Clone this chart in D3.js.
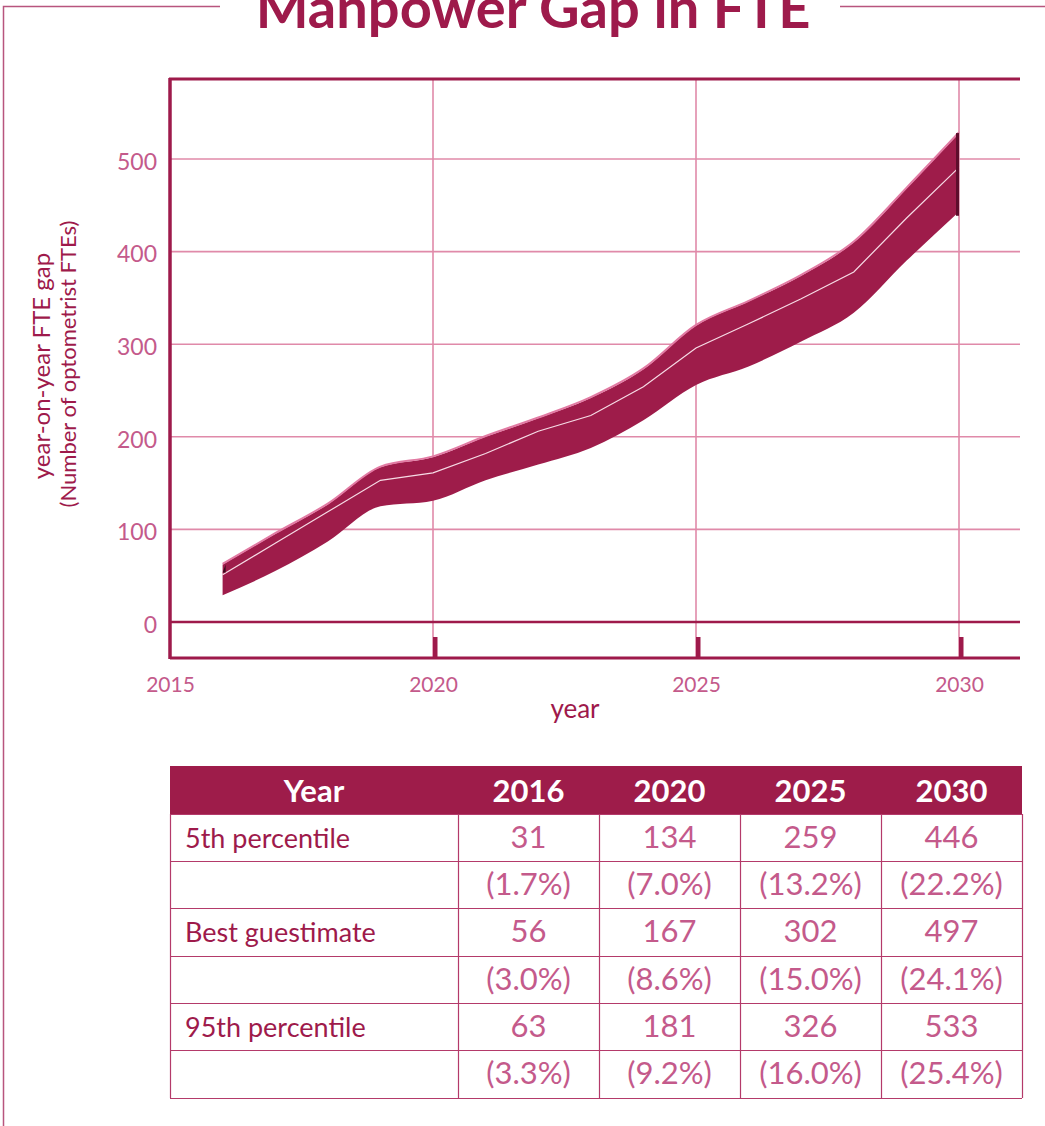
<!DOCTYPE html>
<html><head><meta charset="utf-8">
<script src="https://cdn.jsdelivr.net/npm/d3@7"></script>
<style>
html,body{margin:0;padding:0;background:#fff;}
svg{display:block;}
text{font-family:Lato,"Open Sans",sans-serif;}
</style></head>
<body>
<svg id="c" width="1045" height="1126"></svg>
<script>
// ---- data ----
const years = [2016,2017,2018,2019,2020,2021,2022,2023,2024,2025,2026,2027,2028,2029,2030];
const upper = [62,95,127,167,178,200,220,242,273,320,346,374,410,468,528];
const best  = [51,85,119,153,161,182,206,223,254,296,322,349,378,436,491];
const lower = [29,55,87,125,131,153,170,188,218,256,276,303,334,390,443];
const yTicks = [0,100,200,300,400,500];
const xTicks = [2015,2020,2025,2030];
const title = "Manpower Gap in FTE";
const yTitle1 = "year-on-year FTE gap";
const yTitle2 = "(Number of optometrist FTEs)";
const xTitle = "year";
const tableHeader = ["Year","2016","2020","2025","2030"];
const rowLabels = ["5th percentile","","Best guestimate","","95th percentile",""];
const p5Values = ["31","134","259","446"];
const p5Pct = ["(1.7%)","(7.0%)","(13.2%)","(22.2%)"];
const bestValues = ["56","167","302","497"];
const bestPct = ["(3.0%)","(8.6%)","(15.0%)","(24.1%)"];
const p95Values = ["63","181","326","533"];
const p95Pct = ["(3.3%)","(9.2%)","(16.0%)","(25.4%)"];

const DARK = "#9e1a4b", GRID = "#e08aa9", LABEL = "#c45a8b", BAND = "#9e1c4a";
const svg = d3.select("#c");

// frame
svg.append("path").attr("d","M220,6.5 H3.5 V1126").attr("fill","none").attr("stroke","#b8557e").attr("stroke-width",1.5);
svg.append("path").attr("d","M840,6.5 H1045").attr("fill","none").attr("stroke","#b8557e").attr("stroke-width",1.5);
svg.append("text").attr("x",533).attr("y",28).attr("text-anchor","middle")
  .attr("font-family","'Open Sans',sans-serif").attr("font-weight",700).attr("font-size",56)
  .attr("fill",DARK).text(title);

const x = d3.scaleLinear().domain([2015,2030]).range([170,959]);
const y = d3.scaleLinear().domain([0,500]).range([622,159]);
const xL = 170, xR = 1020, yT = 79, yB = 658;

// gridlines
const g = svg.append("g");
g.selectAll("line.h").data(yTicks.filter(d=>d>0)).join("line")
  .attr("x1",xL).attr("x2",xR).attr("y1",d=>y(d)).attr("y2",d=>y(d))
  .attr("stroke",GRID).attr("stroke-width",1.6);
g.selectAll("line.v").data(xTicks.filter(d=>d>2015)).join("line")
  .attr("x1",d=>x(d)).attr("x2",d=>x(d)).attr("y1",yT).attr("y2",yB)
  .attr("stroke",GRID).attr("stroke-width",1.6);

// band
const area = d3.area().x((d,i)=>x(years[i])).y0((d,i)=>y(lower[i])).y1((d,i)=>y(upper[i])).curve(d3.curveMonotoneX);
svg.append("path").datum(years).attr("d",area).attr("fill",BAND);
const upLine = d3.line().x((d,i)=>x(years[i])).y((d,i)=>y(upper[i])).curve(d3.curveMonotoneX);
svg.append("path").datum(years).attr("d",upLine).attr("fill","none").attr("stroke","#e27aa3").attr("stroke-width",2).attr("transform","translate(0,-0.8)");
const midLine = d3.line().x((d,i)=>x(years[i])).y((d,i)=>y(best[i]));
svg.append("path").datum(years).attr("d",midLine).attr("fill","none").attr("stroke","#f6dbe5").attr("stroke-width",1.2);
// end shading
const n = years.length-1;
svg.append("line").attr("x1",x(years[n])-1.5).attr("x2",x(years[n])-1.5).attr("y1",y(upper[n])).attr("y2",y(lower[n])+4)
  .attr("stroke","#5e0d2c").attr("stroke-width",3);
svg.append("path").attr("d",`M${x(years[0])},${y(upper[0])+8} L${x(years[0])+3},${y(upper[0])} L${x(years[0])+3},${y(upper[0])+8}Z`).attr("fill","#3a0a1c");

// axes frame
svg.append("line").attr("x1",xL).attr("x2",xR).attr("y1",y(0)).attr("y2",y(0)).attr("stroke",DARK).attr("stroke-width",2.5);
svg.append("line").attr("x1",xL-1).attr("x2",xR).attr("y1",yT).attr("y2",yT).attr("stroke",DARK).attr("stroke-width",3);
svg.append("line").attr("x1",xL).attr("x2",xR).attr("y1",yB).attr("y2",yB).attr("stroke",DARK).attr("stroke-width",3);
svg.append("line").attr("x1",xL).attr("x2",xL).attr("y1",yT-1).attr("y2",yB+1).attr("stroke",DARK).attr("stroke-width",3.5);
svg.selectAll("rect.tk").data(xTicks.filter(d=>d>2015)).join("rect")
  .attr("x",d=>x(d)).attr("y",yB-21).attr("width",4.5).attr("height",21).attr("fill",DARK);

// axis labels via d3 axes
const ya = svg.append("g").attr("transform","translate(157,3)")
  .call(d3.axisLeft(y).tickValues(yTicks).tickSize(0).tickPadding(0));
ya.select(".domain").remove();
ya.selectAll("text").attr("font-size",23).attr("fill",LABEL).attr("font-family","Lato,sans-serif");
const xa = svg.append("g").attr("transform","translate(0,677)")
  .call(d3.axisBottom(x).tickValues(xTicks).tickFormat(d3.format("d")).tickSize(0).tickPadding(0));
xa.select(".domain").remove();
xa.selectAll("text").attr("font-size",21).attr("fill",LABEL).attr("font-family","Lato,sans-serif");

svg.append("text").attr("x",575).attr("y",718).attr("text-anchor","middle").attr("font-size",26).attr("fill",DARK).text(xTitle);
svg.append("text").attr("transform","translate(50,366) rotate(-90)").attr("text-anchor","middle").attr("font-size",24).attr("fill",DARK).text(yTitle1);
svg.append("text").attr("transform","translate(76,364) rotate(-90)").attr("text-anchor","middle").attr("font-size",22).attr("fill",DARK).text(yTitle2);

// table
const colX = [170,458,599,740,881,1022];
const rowY = [766,814,861,908,956,1003,1050,1098];
const body = [p5Values,p5Pct,bestValues,bestPct,p95Values,p95Pct];
const t = svg.append("g");
t.append("rect").attr("x",colX[0]).attr("y",rowY[0]).attr("width",colX[5]-colX[0]).attr("height",rowY[1]-rowY[0]).attr("fill",BAND);
t.selectAll("text.h").data(tableHeader).join("text")
  .attr("x",(d,i)=>(colX[i]+colX[i+1])/2).attr("y",rowY[0]+36).attr("text-anchor","middle")
  .attr("font-size",31).attr("font-weight",700).attr("fill","#fff").text(d=>d);
t.selectAll("line.r").data(rowY.slice(1)).join("line")
  .attr("x1",colX[0]).attr("x2",colX[5]).attr("y1",d=>d+0.5).attr("y2",d=>d+0.5).attr("stroke","#b43a6a").attr("stroke-width",1.2);
t.selectAll("line.c").data(colX).join("line")
  .attr("x1",d=>d+0.5).attr("x2",d=>d+0.5).attr("y1",rowY[1]).attr("y2",rowY[7]).attr("stroke","#b43a6a").attr("stroke-width",1.2);
rowLabels.forEach((lab,r)=>{
  const yy = rowY[r+1]+34;
  t.append("text").attr("x",185).attr("y",yy).attr("font-size",27).attr("fill",DARK).text(lab);
  body[r].forEach((v,c)=>{
    t.append("text").attr("x",(colX[c+1]+colX[c+2])/2).attr("y",yy).attr("text-anchor","middle")
      .attr("font-size",31).attr("fill",LABEL).text(v);
  });
});
</script>
</body></html>
